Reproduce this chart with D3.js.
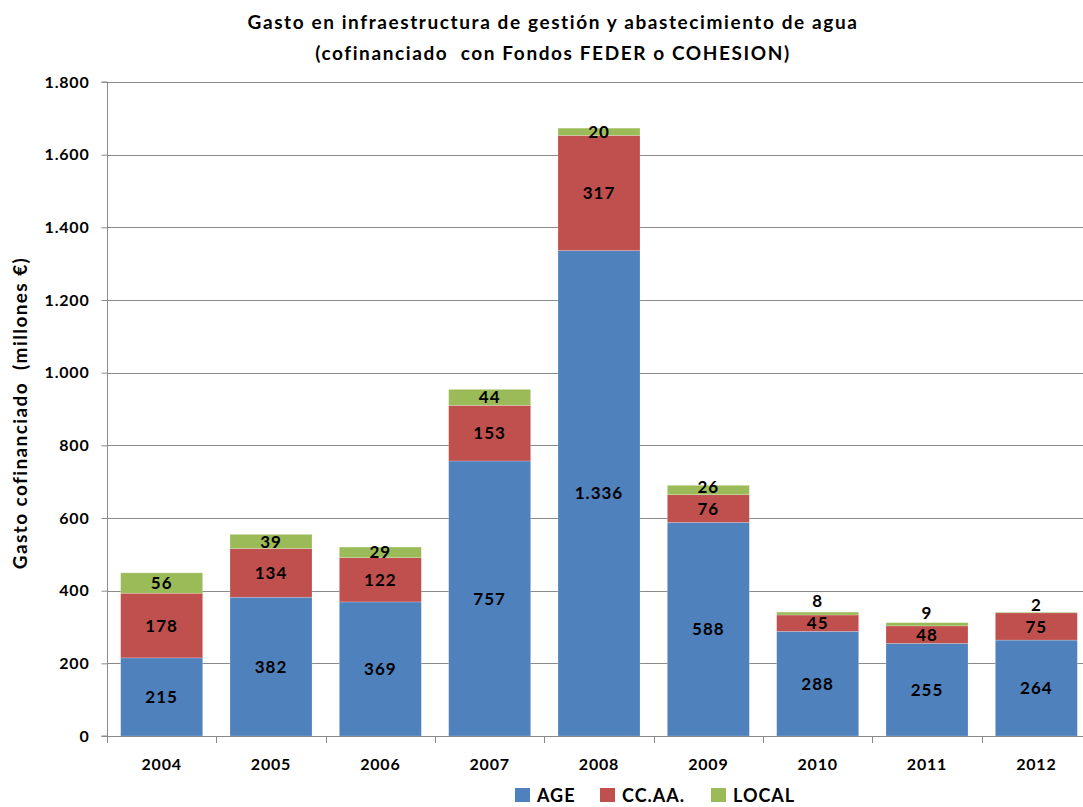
<!DOCTYPE html>
<html>
<head>
<meta charset="utf-8">
<script src="https://cdn.jsdelivr.net/npm/d3@7"></script>
<style>
  body { margin: 0; background: #fff; }
  svg text { font-family: Lato, "Open Sans", sans-serif; font-weight: bold; fill: #000; }
</style>
</head>
<body>
<svg id="main-svg" width="1083" height="807"></svg>
<script>
const years = ["2004", "2005", "2006", "2007", "2008", "2009", "2010", "2011", "2012"];
const age = [215, 382, 369, 757, 1336, 588, 288, 255, 264];
const ccaa = [178, 134, 122, 153, 317, 76, 45, 48, 75];
const local = [56, 39, 29, 44, 20, 26, 8, 9, 2];
const seriesNames = ["AGE", "CC.AA.", "LOCAL"];
const colors = ["#4F81BD", "#C0504D", "#9BBB59"];
const yTicks = [0, 200, 400, 600, 800, 1000, 1200, 1400, 1600, 1800];

const esNum = v => d3.format(",")(v).replace(/,/g, ".");

const svg = d3.select("#main-svg");
const margin = {left: 107, right: -8, top: 82, bottom: 71};
const W = 1083, H = 807;

const x = d3.scaleBand().domain(years)
  .range([margin.left, W - margin.right])
  .paddingInner(0.25).paddingOuter(0.125);
const y = d3.scaleLinear().domain([0, 1800]).range([H - margin.bottom, margin.top]);

// gridlines
svg.append("g").selectAll("line").data(yTicks.slice(1)).join("line")
  .attr("x1", margin.left).attr("x2", W)
  .attr("y1", d => Math.round(y(d)) + 0.5).attr("y2", d => Math.round(y(d)) + 0.5)
  .attr("stroke", "#8a8a8a").attr("stroke-width", 1);

// stacked bars
const rows = years.map((yr, i) => ({year: yr, AGE: age[i], "CC.AA.": ccaa[i], LOCAL: local[i]}));
const stack = d3.stack().keys(seriesNames)(rows);

svg.append("g").selectAll("g").data(stack).join("g")
  .attr("fill", (d, i) => colors[i])
  .selectAll("rect").data(d => d).join("rect")
  .attr("x", d => x(d.data.year))
  .attr("width", x.bandwidth())
  .attr("y", d => y(d[1]))
  .attr("height", d => y(d[0]) - y(d[1]))
  .attr("stroke", "rgba(255,255,255,0.35)").attr("stroke-width", 0.6);

// data labels, nudged upward when they would overlap the label below
const labels = svg.append("g");
years.forEach((yr, i) => {
  let prevY = Infinity;
  stack.forEach(s => {
    const d = s[i];
    let ly = (y(d[0]) + y(d[1])) / 2;
    if (prevY - ly < 20) ly = prevY - 22;
    prevY = ly;
    labels.append("text")
      .attr("x", x(yr) + x.bandwidth() / 2)
      .attr("y", ly)
      .attr("dy", "0.36em")
      .attr("text-anchor", "middle")
      .attr("font-size", 17)
      .attr("letter-spacing", 1)
      .text(esNum(d[1] - d[0]));
  });
});

// axes
const yAxis = svg.append("g")
  .attr("transform", `translate(${margin.left + 0.5},0)`)
  .call(d3.axisLeft(y).tickValues(yTicks).tickSize(6).tickPadding(12).tickFormat(esNum));
yAxis.select(".domain").attr("stroke", "#8a8a8a").attr("d", `M-6,${y(0)}H0V${y(1800)}H-6`);
yAxis.selectAll(".tick line").attr("stroke", "#8a8a8a");
yAxis.selectAll(".tick text").attr("font-size", 16).attr("letter-spacing", 0.8)
  .attr("font-family", "Lato").attr("font-weight", "bold");

const bounds = years.map(yr => x(yr) - x.step() * x.paddingInner() / 2);
const xg = svg.append("g");
xg.append("line")
  .attr("x1", margin.left).attr("x2", W)
  .attr("y1", y(0) + 0.5).attr("y2", y(0) + 0.5)
  .attr("stroke", "#8a8a8a");
xg.selectAll(".tk").data(bounds).join("line").attr("class", "tk")
  .attr("x1", d => Math.round(d) + 0.5).attr("x2", d => Math.round(d) + 0.5)
  .attr("y1", y(0)).attr("y2", y(0) + 7)
  .attr("stroke", "#8a8a8a");
xg.selectAll("text").data(years).join("text")
  .attr("x", d => x(d) + x.bandwidth() / 2)
  .attr("y", y(0) + 34)
  .attr("text-anchor", "middle")
  .attr("font-size", 16)
  .attr("letter-spacing", 0.8)
  .text(d => d);

// titles
svg.append("text").attr("x", 553).attr("y", 29).attr("text-anchor", "middle")
  .attr("font-size", 19).attr("letter-spacing", 1.6)
  .text("Gasto en infraestructura de gestión y abastecimiento de agua");
svg.append("text").attr("x", 553).attr("y", 60).attr("text-anchor", "middle")
  .attr("font-size", 19).attr("letter-spacing", 1.6)
  .attr("xml:space", "preserve")
  .text("(cofinanciado  con Fondos FEDER o COHESION)");
svg.append("text")
  .attr("transform", `translate(27,${(y(0) + y(1800)) / 2 + 4}) rotate(-90)`)
  .attr("text-anchor", "middle").attr("font-size", 19).attr("letter-spacing", 1.4)
  .attr("xml:space", "preserve")
  .text("Gasto cofinanciado  (millones €)");

// legend
const legendX = [515, 600, 711];
const lg = svg.append("g");
seriesNames.forEach((n, i) => {
  lg.append("rect").attr("x", legendX[i]).attr("y", 788).attr("width", 15).attr("height", 14).attr("fill", colors[i]);
  lg.append("text").attr("x", legendX[i] + 22).attr("y", 802).attr("font-size", 18)
    .attr("letter-spacing", 1).text(n);
});
</script>
</body>
</html>
